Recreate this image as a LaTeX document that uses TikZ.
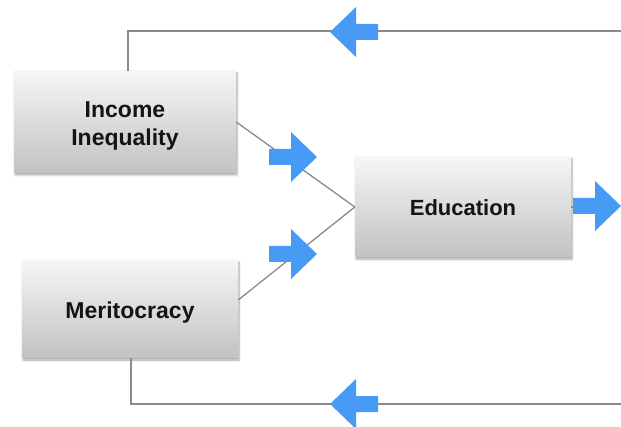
\documentclass[tikz,border=0pt]{standalone}
\usepackage{fontspec}
\setmainfont{Liberation Sans}
\usetikzlibrary{shadows.blur}
\definecolor{arrowblue}{RGB}{72,155,245}
\definecolor{linkgray}{RGB}{138,138,138}
\definecolor{boxtop}{RGB}{246,246,246}
\definecolor{boxbottom}{RGB}{194,194,194}
\definecolor{inktext}{RGB}{20,20,20}
% lower a label inside its box without changing the box's measured size
\newcommand{\droplabel}[2]{\raisebox{-#1}[\height][\depth]{#2}}
\begin{document}
\begin{tikzpicture}[x=1pt,y=-1pt,
  factorbox/.style={rectangle, inner sep=0pt, align=center,
    top color=boxtop, bottom color=boxbottom,
    blur shadow={shadow xshift=1pt, shadow yshift=-2pt,
      shadow blur steps=6, shadow opacity=35},
    text=inktext, font=\bfseries\fontsize{23}{28}\selectfont},
  link/.style={draw=linkgray, line width=1.3pt},
  fatarrow/.pic={
    \fill[arrowblue] (0,0) -- (-26,-25) -- (-26,-8) -- (-48,-8)
      -- (-48,8) -- (-26,8) -- (-26,25) -- cycle;
  }]
\useasboundingbox (0,0) rectangle (621,427);

% boxes
\node[factorbox, minimum width=222pt, minimum height=102pt]
  (inc) at (125,122)
  {\droplabel{4pt}{\begin{tabular}{@{}c@{}}Income\\[0pt]Inequality\end{tabular}}};
\node[factorbox, minimum width=216pt, minimum height=100pt,
  font=\bfseries\fontsize{22}{27}\selectfont]
  (edu) at (463,207) {\droplabel{1pt}{Education}};
\node[factorbox, minimum width=216pt, minimum height=98pt]
  (mer) at (130,309) {\droplabel{4pt}{Meritocracy}};

% free ends of the feedback loops and the outgoing stub
\coordinate (topR) at (621,31);
\coordinate (botR) at (621,404);
\coordinate (exit) at (577,207);

% links between the boxes
\draw[link] (inc.east) -- (edu.west);
\draw[link] ([yshift=9pt]mer.east) -- (edu.west);
\draw[link] ([xshift=3pt]inc.north) |- (topR);
\draw[link] ([xshift=1pt]mer.south) |- (botR);
\draw[link] (edu.east) -- (exit);

% blue direction arrows
\pic[rotate=180] at (330,32) {fatarrow};
\pic[rotate=180] at (330,404) {fatarrow};
\pic at (317,157) {fatarrow};
\pic at (317,254) {fatarrow};
\pic at (621,206) {fatarrow};
\end{tikzpicture}
\end{document}
